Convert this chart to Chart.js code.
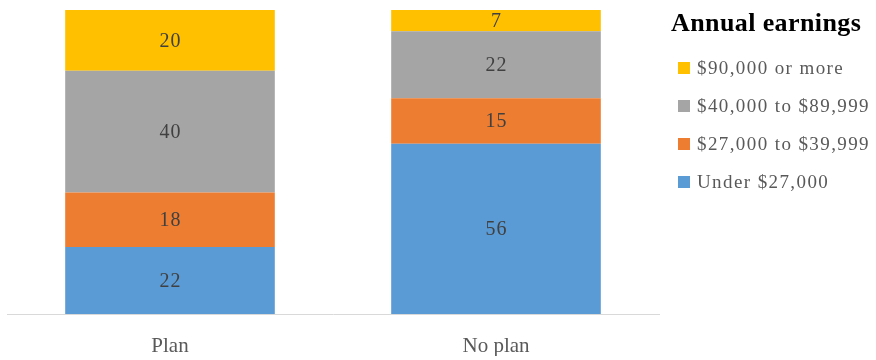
<!DOCTYPE html>
<html><head><meta charset="utf-8">
<script src="https://cdn.jsdelivr.net/npm/chart.js@4"></script>
<style>html,body{margin:0;padding:0;background:#fff}#wrap{width:876px;height:360px}</style>
</head><body><div id="wrap"><canvas id="c" width="876" height="360"></canvas></div>
<script>
const categories = ["Plan", "No plan"];
const seriesNames = ["Under $27,000", "$27,000 to $39,999", "$40,000 to $89,999", "$90,000 or more"];
const under27k = [22, 56];
const from27to40k = [18, 15];
const from40to90k = [40, 22];
const over90k = [20, 7];
const legendTitle = "Annual earnings";
const colors = ["#5B9BD5", "#ED7D31", "#A5A5A5", "#FFC000"];
const seriesValues = [under27k, from27to40k, from40to90k, over90k];

const FONT = "'Liberation Serif', 'DejaVu Serif', serif";

const labelPlugin = {
  id: 'barLabels',
  afterDatasetsDraw(chart) {
    const ctx = chart.ctx;
    ctx.save();
    ctx.font = "20px " + FONT;
    ctx.letterSpacing = "1px";
    ctx.fillStyle = "#404040";
    ctx.textAlign = "center";
    ctx.textBaseline = "middle";
    chart.data.datasets.forEach((ds, i) => {
      const meta = chart.getDatasetMeta(i);
      meta.data.forEach((bar, j) => {
        const p = bar.getProps(['x', 'y', 'base'], true);
        ctx.fillText(String(ds.data[j]), p.x + 0.5, (p.y + p.base) / 2 + 1);
      });
    });
    ctx.restore();
  }
};

const legendPlugin = {
  id: 'customLegend',
  afterDraw(chart) {
    const ctx = chart.ctx;
    ctx.save();
    ctx.font = "bold 26px " + FONT;
    ctx.letterSpacing = "0.4px";
    ctx.fillStyle = "#000";
    ctx.textAlign = "left";
    ctx.textBaseline = "alphabetic";
    ctx.fillText(legendTitle, 671, 31);
    ctx.font = "19px " + FONT;
    ctx.letterSpacing = "1.4px";
    const rows = [68, 106, 144, 182];
    for (let k = 0; k < 4; k++) {
      const idx = 3 - k;
      const y = rows[k];
      ctx.fillStyle = colors[idx];
      ctx.fillRect(678, y - 6, 12, 12);
      ctx.fillStyle = "#595959";
      ctx.textBaseline = "middle";
      ctx.fillText(seriesNames[idx], 697, y + 1);
    }
    ctx.restore();
  }
};

new Chart(document.getElementById('c'), {
  type: 'bar',
  data: {
    labels: categories,
    datasets: seriesNames.map((n, i) => ({
      label: n,
      data: seriesValues[i],
      backgroundColor: colors[i],
      borderWidth: 0,
      categoryPercentage: 1,
      barPercentage: 0.643
    }))
  },
  options: {
    responsive: false,
    animation: false,
    layout: { padding: { left: 7, right: 217, top: 10, bottom: 4 } },
    plugins: { legend: { display: false }, tooltip: { enabled: false } },
    scales: {
      x: {
        stacked: true,
        grid: { display: false, drawTicks: false },
        border: { display: true, color: "#d9d9d9", width: 1 },
        ticks: { padding: 20, color: "#595959", font: { family: FONT, size: 21 } },
        afterFit(scale) { scale.height = 42; }
      },
      y: {
        stacked: true,
        display: false,
        min: 0, max: 100
      }
    }
  },
  plugins: [labelPlugin, legendPlugin]
});
</script></body></html>
